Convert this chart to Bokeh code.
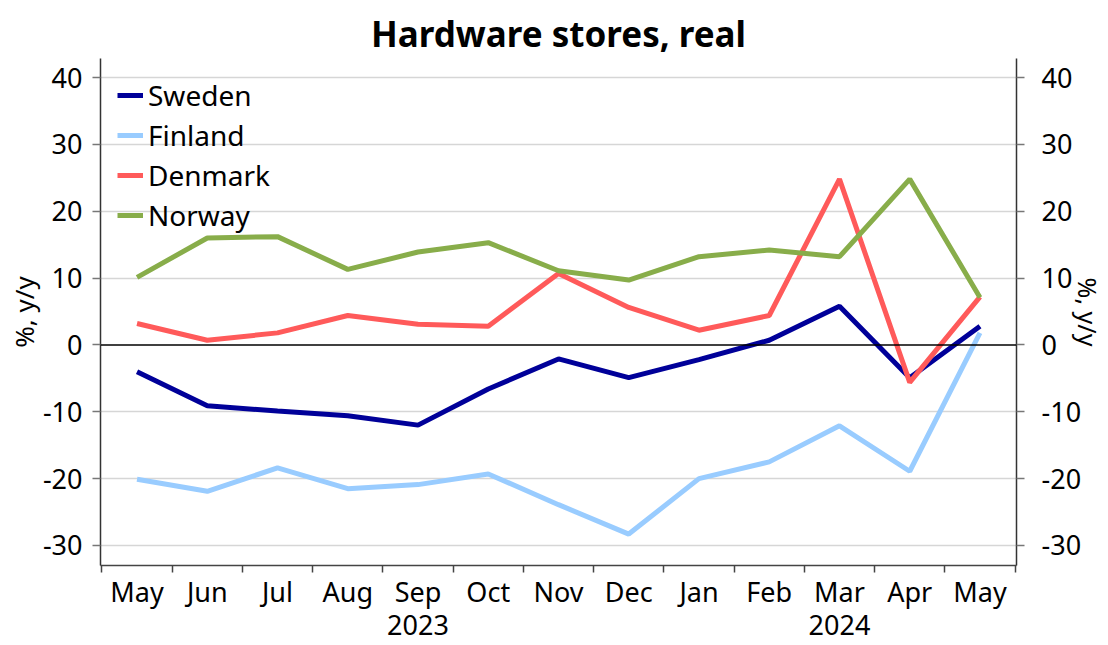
from bokeh.plotting import figure
from bokeh.models import LinearAxis, FixedTicker, Span, Range1d
from bokeh.embed import file_html
from bokeh.resources import INLINE

title_text = "Hardware stores, real"
months = ["May", "Jun", "Jul", "Aug", "Sep", "Oct", "Nov", "Dec",
          "Jan", "Feb", "Mar", "Apr", "May"]
years = {4: "2023", 10: "2024"}
y_ticks = [-30, -20, -10, 0, 10, 20, 30, 40]

sweden = [-4.0, -9.1, -9.9, -10.6, -12.0, -6.6, -2.1, -4.9, -2.2, 0.7, 5.8, -4.9, 2.8]
finland = [-20.1, -21.9, -18.4, -21.5, -20.9, -19.3, -23.9, -28.3, -20.0, -17.5, -12.1, -18.9, 1.8]
denmark = [3.2, 0.7, 1.8, 4.4, 3.1, 2.8, 10.7, 5.6, 2.2, 4.4, 24.8, -5.6, 7.2]
norway = [10.1, 16.0, 16.2, 11.3, 13.9, 15.3, 11.1, 9.7, 13.2, 14.2, 13.2, 24.8, 7.1]

series = [("Sweden", sweden, "#000099"),
          ("Finland", finland, "#99ccff"),
          ("Denmark", denmark, "#ff5a5a"),
          ("Norway", norway, "#88ad4a")]

FONT = "Noto Sans"
TS = "27px"
xs = list(range(len(months)))
y_labels = {t: str(t) for t in y_ticks}

p = figure(width=1108, height=645,
           x_range=Range1d(-0.52, len(months) - 0.48),
           y_range=Range1d(-33, 42.85),
           output_backend="svg", toolbar_location=None,
           min_border_left=100, min_border_right=90,
           min_border_top=58, min_border_bottom=80,
           title=title_text)
p.outline_line_color = None
p.background_fill_color = "white"

p.title.align = "center"
p.title.vertical_align = "top"
p.title.text_font = FONT
p.title.text_font_size = "35px"
p.title.text_font_style = "bold"
p.title.text_color = "black"
p.title.standoff = 0

# grid
p.xgrid.visible = False
p.ygrid.ticker = FixedTicker(ticks=[t for t in y_ticks if t != 0])
p.ygrid.grid_line_color = "#d6d6d6"
p.ygrid.grid_line_width = 1.5


def style_y(ax, standoff, label_standoff, fs):
    ax.ticker = FixedTicker(ticks=y_ticks)
    ax.major_label_overrides = y_labels
    ax.major_label_text_font = FONT
    ax.major_label_text_font_size = TS
    ax.major_label_text_color = "black"
    ax.axis_label = "%, y/y"
    ax.axis_label_text_font = FONT
    ax.axis_label_text_font_size = fs
    ax.axis_label_text_font_style = "normal"
    ax.axis_label_text_color = "black"
    ax.axis_line_color = "#333333"
    ax.axis_line_width = 1.5
    ax.major_tick_line_color = "#777777"
    ax.major_tick_line_width = 1.5
    ax.major_tick_out = 8
    ax.major_tick_in = 0
    ax.minor_tick_line_color = None
    ax.major_label_standoff = standoff
    ax.axis_label_standoff = label_standoff


style_y(p.yaxis[0], 10, -2, "26px")
yr = LinearAxis()
style_y(yr, 17, -13, "25px")
p.add_layout(yr, "right")

# bottom axis: month labels, boundary ticks
xb = p.xaxis[0]
xb.ticker = FixedTicker(ticks=xs, minor_ticks=[i - 0.5 for i in range(len(months) + 1)])
xb.major_label_overrides = {i: m for i, m in enumerate(months)}
xb.major_label_text_font = FONT
xb.major_label_text_font_size = TS
xb.major_label_text_color = "black"
xb.major_tick_out = 0
xb.major_tick_in = 0
xb.major_tick_line_color = None
xb.minor_tick_out = 7
xb.minor_tick_in = 0
xb.minor_tick_line_color = "#444444"
xb.minor_tick_line_width = 1.5
xb.axis_line_color = "#444444"
xb.axis_line_width = 1.5
xb.major_label_standoff = 0

# year axis
xy = LinearAxis(ticker=FixedTicker(ticks=list(years.keys())),
                major_label_overrides=years)
xy.axis_line_color = None
xy.major_tick_line_color = None
xy.minor_tick_line_color = None
xy.major_tick_out = 0
xy.major_tick_in = 0
xy.major_label_text_font = FONT
xy.major_label_text_font_size = TS
xy.major_label_text_color = "black"
xy.major_label_standoff = 2
p.add_layout(xy, "below")

# zero line
p.add_layout(Span(location=0, dimension="width", line_color="black", line_width=1.5))

for name, vals, col in series:
    p.line(xs, vals, line_color=col, line_width=5, legend_label=name)

lg = p.legend[0]
lg.location = "top_left"
lg.margin = 17
lg.padding = 8
lg.border_line_color = None
lg.background_fill_alpha = 0
lg.label_text_font = FONT
lg.label_text_font_size = "28px"
lg.label_text_color = "black"
lg.glyph_width = 26
lg.glyph_height = 40
lg.label_height = 40
lg.label_standoff = 5
lg.spacing = 0

open("out.html", "w").write(file_html(p, INLINE))
